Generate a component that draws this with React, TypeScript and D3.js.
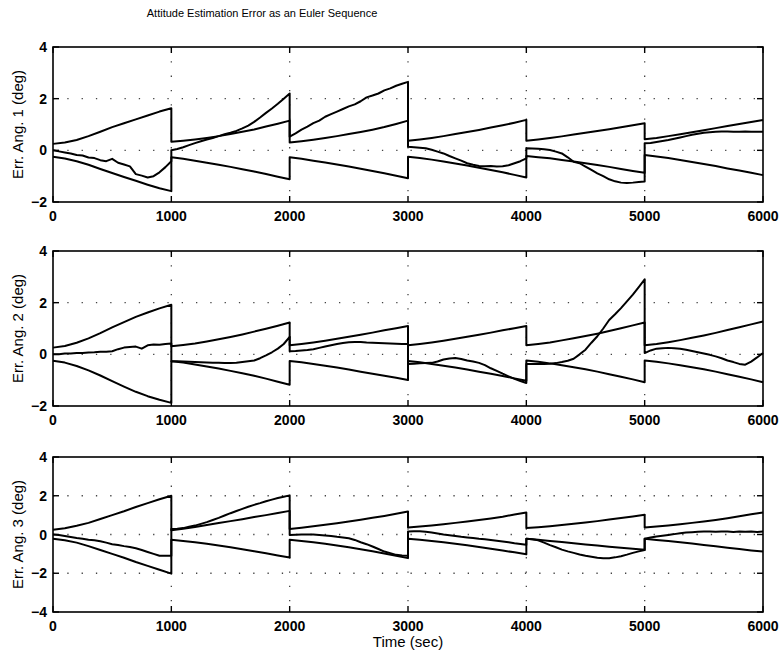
import React, { useRef, useEffect } from 'react';
import * as d3 from 'd3';

// time offsets inside each 1000 s segment
const boundOffsets = [0, 100, 200, 300, 400, 500, 600, 700, 800, 900, 1000];
const errOffsets = [0, 50, 100, 150, 200, 250, 300, 350, 400, 450, 500, 550, 600, 650, 700, 750, 800, 850, 900, 950, 1000];
const segmentStarts = [0, 1000, 2000, 3000, 4000, 5000];
const xTicks = [0, 1000, 2000, 3000, 4000, 5000, 6000];

const titleText = 'Attitude Estimation Error as an Euler Sequence';
const xLabel = 'Time (sec)';
const yLabels = ['Err. Ang. 1 (deg)', 'Err. Ang. 2 (deg)', 'Err. Ang. 3 (deg)'];
const yTicks = [[-2, 0, 2, 4], [-2, 0, 2, 4], [-4, -2, 0, 2, 4]];
const yDomains = [[-2, 4], [-2, 4], [-4, 4]];

// angle 1
const upper1 = [
  [0.25, 0.3, 0.4, 0.55, 0.72, 0.9, 1.05, 1.2, 1.35, 1.5, 1.63],
  [0.33, 0.37, 0.42, 0.48, 0.55, 0.63, 0.72, 0.81, 0.92, 1.03, 1.15],
  [0.3, 0.35, 0.41, 0.48, 0.55, 0.63, 0.71, 0.8, 0.9, 1.02, 1.15],
  [0.37, 0.42, 0.48, 0.55, 0.63, 0.71, 0.79, 0.88, 0.97, 1.07, 1.18],
  [0.37, 0.42, 0.48, 0.54, 0.61, 0.68, 0.75, 0.82, 0.89, 0.97, 1.05],
  [0.43, 0.48, 0.55, 0.62, 0.7, 0.78, 0.86, 0.94, 1.02, 1.1, 1.17],
];
const lower1 = [
  [-0.25, -0.32, -0.42, -0.56, -0.72, -0.88, -1.03, -1.18, -1.33, -1.47, -1.58],
  [-0.27, -0.33, -0.4, -0.48, -0.56, -0.64, -0.73, -0.82, -0.92, -1.02, -1.12],
  [-0.27, -0.33, -0.4, -0.47, -0.55, -0.63, -0.71, -0.8, -0.89, -0.98, -1.08],
  [-0.25, -0.3, -0.36, -0.43, -0.51, -0.59, -0.67, -0.76, -0.85, -0.95, -1.05],
  [-0.22, -0.27, -0.31, -0.37, -0.43, -0.5, -0.57, -0.64, -0.72, -0.8, -0.87],
  [-0.18, -0.24, -0.3, -0.37, -0.45, -0.53, -0.61, -0.7, -0.78, -0.87, -0.96],
];
const err1 = [
  [0, -0.04, -0.08, -0.12, -0.18, -0.2, -0.28, -0.3, -0.38, -0.42, -0.33, -0.48, -0.55, -0.62, -0.92, -0.98, -1.05, -1.0, -0.85, -0.65, -0.42],
  [0, 0.05, 0.12, 0.2, 0.28, 0.35, 0.42, 0.48, 0.55, 0.62, 0.68, 0.75, 0.85, 0.96, 1.1, 1.27, 1.45, 1.62, 1.8, 2.0, 2.2],
  [0.53, 0.66, 0.8, 0.92, 1.05, 1.15, 1.3, 1.4, 1.5, 1.6, 1.7, 1.78, 1.9, 2.05, 2.12, 2.2, 2.32, 2.4, 2.5, 2.58, 2.65],
  [0.14, 0.12, 0.1, 0.08, 0.02, -0.05, -0.12, -0.22, -0.31, -0.4, -0.5, -0.56, -0.61, -0.62, -0.61, -0.63, -0.62, -0.58, -0.5, -0.42, -0.31],
  [0.08, 0.07, 0.06, 0.04, 0.01, -0.05, -0.12, -0.27, -0.44, -0.5, -0.63, -0.76, -0.89, -1.0, -1.12, -1.2, -1.25, -1.26, -1.25, -1.23, -1.21],
  [0.27, 0.28, 0.32, 0.36, 0.4, 0.45, 0.5, 0.55, 0.6, 0.64, 0.68, 0.7, 0.72, 0.73, 0.73, 0.72, 0.72, 0.73, 0.72, 0.72, 0.72],
];

// angle 2
const upper2 = [
  [0.26, 0.32, 0.45, 0.62, 0.82, 1.04, 1.25, 1.45, 1.62, 1.78, 1.92],
  [0.31, 0.36, 0.42, 0.5, 0.58, 0.67, 0.77, 0.88, 0.99, 1.11, 1.23],
  [0.35, 0.4, 0.46, 0.53, 0.6, 0.68, 0.76, 0.84, 0.93, 1.01, 1.1],
  [0.35, 0.4, 0.46, 0.53, 0.6, 0.68, 0.76, 0.84, 0.93, 1.01, 1.1],
  [0.35, 0.4, 0.46, 0.54, 0.62, 0.71, 0.8, 0.9, 1.01, 1.12, 1.23],
  [0.35, 0.4, 0.47, 0.55, 0.64, 0.73, 0.83, 0.94, 1.05, 1.16, 1.27],
];
const lower2 = [
  [-0.25, -0.32, -0.45, -0.62, -0.82, -1.04, -1.25, -1.45, -1.62, -1.76, -1.88],
  [-0.27, -0.32, -0.39, -0.47, -0.55, -0.64, -0.73, -0.83, -0.94, -1.06, -1.18],
  [-0.26, -0.31, -0.37, -0.44, -0.51, -0.59, -0.67, -0.75, -0.83, -0.91, -0.99],
  [-0.26, -0.31, -0.37, -0.44, -0.51, -0.59, -0.67, -0.75, -0.84, -0.93, -1.02],
  [-0.24, -0.29, -0.35, -0.42, -0.5, -0.58, -0.67, -0.77, -0.87, -0.97, -1.08],
  [-0.24, -0.29, -0.35, -0.42, -0.5, -0.58, -0.67, -0.77, -0.87, -0.97, -1.08],
];
const err2 = [
  [0, 0, 0.03, 0.03, 0.05, 0.05, 0.07, 0.08, 0.1, 0.1, 0.12, 0.2, 0.26, 0.28, 0.3, 0.22, 0.35, 0.38, 0.37, 0.4, 0.42],
  [-0.27, -0.27, -0.28, -0.29, -0.3, -0.31, -0.32, -0.33, -0.33, -0.34, -0.34, -0.33, -0.3, -0.27, -0.24, -0.15, -0.04, 0.08, 0.22, 0.4, 0.68],
  [0.12, 0.13, 0.15, 0.17, 0.2, 0.25, 0.3, 0.35, 0.4, 0.44, 0.47, 0.48, 0.48, 0.46, 0.45, 0.44, 0.43, 0.42, 0.41, 0.4, 0.4],
  [-0.37, -0.36, -0.35, -0.34, -0.33, -0.28, -0.2, -0.16, -0.14, -0.18, -0.24, -0.28, -0.33, -0.42, -0.54, -0.64, -0.75, -0.85, -0.95, -1.03, -1.11],
  [-0.37, -0.37, -0.37, -0.37, -0.36, -0.34, -0.3, -0.25, -0.17, 0.0, 0.18, 0.45, 0.7, 1.0, 1.33, 1.55, 1.79, 2.05, 2.31, 2.6, 2.9],
  [0.05, 0.15, 0.22, 0.24, 0.25, 0.24, 0.22, 0.18, 0.13, 0.08, 0.03, -0.02, -0.08, -0.15, -0.24, -0.3, -0.37, -0.4, -0.28, -0.12, 0.05],
];

// angle 3
const upper3 = [
  [0.25, 0.32, 0.45, 0.6, 0.8, 1.0, 1.2, 1.42, 1.62, 1.82, 2.0],
  [0.22, 0.3, 0.39, 0.49, 0.59, 0.69, 0.79, 0.9, 1.0, 1.11, 1.22],
  [0.29, 0.35, 0.42, 0.5, 0.58, 0.67, 0.76, 0.86, 0.96, 1.07, 1.19],
  [0.36, 0.41, 0.47, 0.53, 0.6, 0.67, 0.75, 0.83, 0.92, 1.03, 1.14],
  [0.33, 0.38, 0.43, 0.49, 0.55, 0.62, 0.69, 0.77, 0.85, 0.93, 1.02],
  [0.36, 0.41, 0.47, 0.53, 0.6, 0.67, 0.75, 0.84, 0.94, 1.04, 1.14],
];
const lower3 = [
  [-0.22, -0.3, -0.42, -0.6, -0.8, -1.0, -1.2, -1.42, -1.62, -1.82, -2.02],
  [-0.27, -0.33, -0.4, -0.48, -0.57, -0.66, -0.76, -0.86, -0.97, -1.08, -1.19],
  [-0.27, -0.33, -0.4, -0.48, -0.57, -0.66, -0.76, -0.87, -0.98, -1.1, -1.22],
  [-0.22, -0.27, -0.33, -0.4, -0.48, -0.56, -0.65, -0.74, -0.83, -0.92, -1.02],
  [-0.22, -0.27, -0.33, -0.39, -0.45, -0.51, -0.57, -0.63, -0.69, -0.74, -0.79],
  [-0.22, -0.28, -0.34, -0.4, -0.47, -0.54, -0.61, -0.68, -0.75, -0.82, -0.88],
];
const err3 = [
  [0, -0.03, -0.08, -0.13, -0.18, -0.22, -0.27, -0.3, -0.35, -0.42, -0.5, -0.54, -0.6, -0.65, -0.71, -0.8, -0.9, -1.0, -1.1, -1.1, -1.1],
  [0.29, 0.3, 0.33, 0.4, 0.46, 0.55, 0.64, 0.75, 0.86, 0.98, 1.1, 1.21, 1.32, 1.43, 1.53, 1.62, 1.72, 1.8, 1.88, 1.95, 2.02],
  [-0.02, -0.01, 0, 0, 0, -0.02, -0.05, -0.08, -0.12, -0.15, -0.19, -0.28, -0.4, -0.5, -0.62, -0.75, -0.88, -0.96, -1.05, -1.08, -1.1],
  [0.16, 0.17, 0.17, 0.14, 0.1, 0.05, 0.0, -0.04, -0.08, -0.12, -0.15, -0.18, -0.22, -0.25, -0.28, -0.32, -0.36, -0.4, -0.45, -0.49, -0.53],
  [-0.22, -0.25, -0.3, -0.42, -0.55, -0.66, -0.78, -0.87, -0.95, -1.03, -1.1, -1.15, -1.2, -1.22, -1.22, -1.18, -1.12, -1.04, -0.95, -0.87, -0.8],
  [-0.22, -0.16, -0.1, -0.06, -0.02, 0.02, 0.07, 0.1, 0.12, 0.14, 0.15, 0.16, 0.14, 0.16, 0.15, 0.13, 0.16, 0.14, 0.16, 0.13, 0.15],
];

const panels = [
  { upper: upper1, lower: lower1, err: err1 },
  { upper: upper2, lower: lower2, err: err2 },
  { upper: upper3, lower: lower3, err: err3 },
];

const W = 783;
const H = 656;
const left = 53;
const right = 763;
const panelTops = [47, 251, 457];
const panelH = 155;
const font = '"Liberation Sans", Arial, Helvetica, sans-serif';

// join segments into one continuous MATLAB-style trace (vertical jump at each reset)
const toPoints = (segs: number[][], offsets: number[]) => {
  const pts: [number, number][] = [];
  segs.forEach((seg, k) => {
    seg.forEach((v, i) => pts.push([segmentStarts[k] + offsets[i], v]));
  });
  return pts;
};

const App = () => {
  const svgRef = useRef<SVGSVGElement>(null);

  useEffect(() => {
    const svg = d3.select(svgRef.current);
    svg.selectAll('*').remove();

    svg.append('rect').attr('width', W).attr('height', H).attr('fill', '#fff');

    svg.append('text')
      .attr('x', 262)
      .attr('y', 17)
      .attr('text-anchor', 'middle')
      .style('font-family', font)
      .style('font-size', '11px')
      .text(titleText);

    const x = d3.scaleLinear().domain([0, 6000]).range([left, right]);

    panels.forEach((p, pi) => {
      const top = panelTops[pi];
      const bottom = top + panelH;
      const y = d3.scaleLinear().domain(yDomains[pi]).range([bottom, top]);
      const g = svg.append('g');

      // dotted grid (sparse, like the scanned original)
      xTicks.slice(1, -1).forEach(t => {
        g.append('line')
          .attr('x1', x(t)).attr('x2', x(t))
          .attr('y1', top).attr('y2', bottom)
          .attr('stroke', '#444')
          .attr('stroke-width', 1.3)
          .attr('stroke-dasharray', '1.3 13');
      });
      yTicks[pi].slice(1, -1).forEach(v => {
        g.append('line')
          .attr('x1', left).attr('x2', right)
          .attr('y1', y(v)).attr('y2', y(v))
          .attr('stroke', '#444')
          .attr('stroke-width', 1.3)
          .attr('stroke-dasharray', '1.3 13');
      });

      const line = d3.line<[number, number]>()
        .x(d => x(d[0]))
        .y(d => y(d[1]));

      [toPoints(p.upper, boundOffsets), toPoints(p.lower, boundOffsets), toPoints(p.err, errOffsets)]
        .forEach(pts => {
          g.append('path')
            .attr('d', line(pts))
            .attr('fill', 'none')
            .attr('stroke', '#000')
            .attr('stroke-width', 2)
            .attr('stroke-linejoin', 'round');
        });

      // frame
      g.append('rect')
        .attr('x', left).attr('y', top)
        .attr('width', right - left).attr('height', panelH)
        .attr('fill', 'none')
        .attr('stroke', '#000')
        .attr('stroke-width', 1.6);

      // inward ticks
      xTicks.forEach(t => {
        g.append('line').attr('x1', x(t)).attr('x2', x(t)).attr('y1', bottom).attr('y2', bottom - 6)
          .attr('stroke', '#000').attr('stroke-width', 1.4);
        g.append('line').attr('x1', x(t)).attr('x2', x(t)).attr('y1', top).attr('y2', top + 6)
          .attr('stroke', '#000').attr('stroke-width', 1.4);
        g.append('text')
          .attr('x', x(t))
          .attr('y', bottom + 19)
          .attr('text-anchor', 'middle')
          .style('font-family', font)
          .style('font-size', '14px')
          .style('font-weight', 'bold')
          .text(t);
      });
      yTicks[pi].forEach(v => {
        g.append('line').attr('x1', left).attr('x2', left + 6).attr('y1', y(v)).attr('y2', y(v))
          .attr('stroke', '#000').attr('stroke-width', 1.4);
        g.append('line').attr('x1', right).attr('x2', right - 6).attr('y1', y(v)).attr('y2', y(v))
          .attr('stroke', '#000').attr('stroke-width', 1.4);
        g.append('text')
          .attr('x', left - 6)
          .attr('y', y(v) + 5)
          .attr('text-anchor', 'end')
          .style('font-family', font)
          .style('font-size', '14px')
          .style('font-weight', 'bold')
          .text(v < 0 ? '\u2212' + Math.abs(v) : String(v));
      });

      g.append('text')
        .attr('transform', `translate(23, ${top + panelH / 2}) rotate(-90)`)
        .attr('text-anchor', 'middle')
        .style('font-family', font)
        .style('font-size', '15px')
        .text(yLabels[pi]);
    });

    svg.append('text')
      .attr('x', (left + right) / 2)
      .attr('y', 647)
      .attr('text-anchor', 'middle')
      .style('font-family', font)
      .style('font-size', '15px')
      .text(xLabel);
  }, []);

  return (
    <svg
      ref={svgRef}
      width={W}
      height={H}
      style={{ position: 'absolute', left: 0, top: 0 }}
    />
  );
};

export default App;
